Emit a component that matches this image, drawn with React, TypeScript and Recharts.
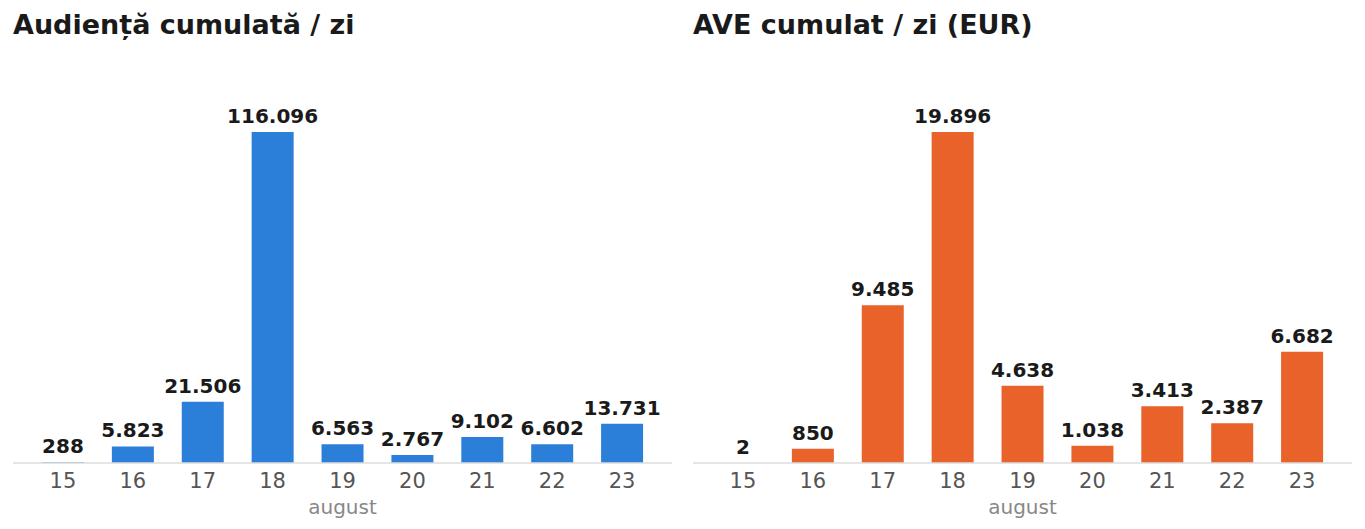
import React from "react";
import { BarChart, Bar, XAxis, YAxis, LabelList } from "recharts";

const days = ["15", "16", "17", "18", "19", "20", "21", "22", "23"];
const audience = [288, 5823, 21506, 116096, 6563, 2767, 9102, 6602, 13731];
const ave = [2, 850, 9485, 19896, 4638, 1038, 3413, 2387, 6682];

const FONT = "'DejaVu Sans', sans-serif";

const fmt = (v: number) => v.toLocaleString("de-DE");

function Panel({
    title,
    values,
    color,
    width,
    left,
    right,
}: {
    title: string;
    values: number[];
    color: string;
    width: number;
    left: number;
    right: number;
}) {
    const data = days.map((d, i) => ({ day: d, value: values[i] }));
    return (
        <div style={{ width }}>
            <div
                style={{
                    fontFamily: FONT,
                    fontWeight: "bold",
                    fontSize: 27,
                    color: "#1a1a1a",
                    paddingLeft: left,
                    paddingTop: 2,
                    lineHeight: "30px",
                    height: 30,
                    whiteSpace: "nowrap",
                }}
            >
                {title}
            </div>
            <BarChart
                width={width}
                height={489}
                data={data}
                margin={{ top: 92, right, bottom: 6, left }}
                barCategoryGap="20%"
            >
                <XAxis
                    dataKey="day"
                    padding={{ left: 15, right: 15 }}
                    tickLine={false}
                    tickSize={0}
                    tickMargin={10}
                    axisLine={{ stroke: "#dddddd", strokeWidth: 1.5 }}
                    tick={{ fill: "#555555", fontSize: 21, fontFamily: FONT }}
                    height={60}
                    label={{
                        value: "august",
                        position: "insideBottom",
                        offset: 9,
                        fill: "#888888",
                        fontSize: 20,
                        fontFamily: FONT,
                    }}
                />
                <YAxis hide domain={[0, "dataMax"]} />
                <Bar dataKey="value" fill={color} isAnimationActive={false}>
                    <LabelList
                        dataKey="value"
                        position="top"
                        offset={9}
                        formatter={(v: any) => fmt(Number(v))}
                        style={{
                            fill: "#1a1a1a",
                            fontSize: 20,
                            fontWeight: "bold",
                            fontFamily: FONT,
                        }}
                    />
                </Bar>
            </BarChart>
        </div>
    );
}

export default function App() {
    return (
        <div style={{ display: "flex", width: 1349 }}>
            <Panel
                title="Audiență cumulată / zi"
                values={audience}
                color="#2c7fd9"
                width={680}
                left={5}
                right={16}
            />
            <Panel
                title="AVE cumulat / zi (EUR)"
                values={ave}
                color="#e8622a"
                width={669}
                left={5}
                right={5}
            />
        </div>
    );
}
